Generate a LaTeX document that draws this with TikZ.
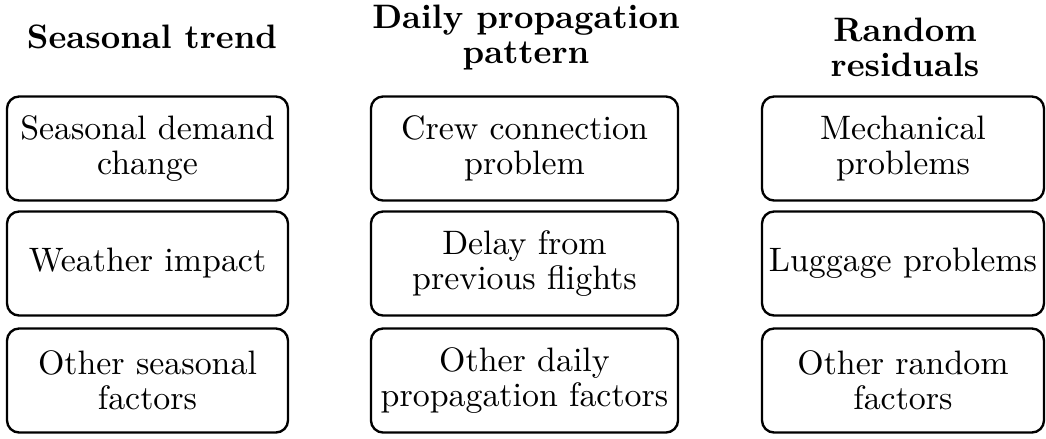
\documentclass[tikz,border=0pt]{standalone}
\begin{document}
\begin{tikzpicture}[x=0.295pt,y=-0.295pt,
  factor/.style={draw=black,line width=0.7pt,rounded corners=3.6pt,
    minimum height=30.7pt,inner sep=0pt,align=center,
    font=\fontsize{10}{10.2}\selectfont},
  colA/.style={factor,minimum width=82.9pt},
  colB/.style={factor,minimum width=90.6pt},
  colC/.style={factor,minimum width=83.2pt},
  heading/.style={inner sep=0pt,align=center,anchor=base,
    font=\fontsize{10}{10.3}\selectfont\bfseries}]
\useasboundingbox (0,0) rectangle (1046,438);
% headings (anchor = baseline of last line)
\node[heading] (h1) at (152,48) {Seasonal trend};
\node[heading] (h2) at (526,63) {Daily propagation\\pattern};
\node[heading] (h3) at (905,76) {Random\\residuals};
% column 1
\node[colA] (a1) at (147.5,148.5) {Seasonal demand\\change};
\node[colA] (a2) at (147.5,263.5) {Weather impact};
\node[colA] (a3) at (147.5,380.5) {Other seasonal\\factors};
% column 2
\node[colB] (b1) at (524.5,148.5) {Crew connection\\problem};
\node[colB] (b2) at (524.5,263.5) {Delay from\\previous flights};
\node[colB] (b3) at (524.5,380.5) {Other daily\\propagation factors};
% column 3
\node[colC] (c1) at (903,148.5) {Mechanical\\problems};
\node[colC] (c2) at (903,263.5) {Luggage problems};
\node[colC] (c3) at (903,380.5) {Other random\\factors};
\end{tikzpicture}
\end{document}
